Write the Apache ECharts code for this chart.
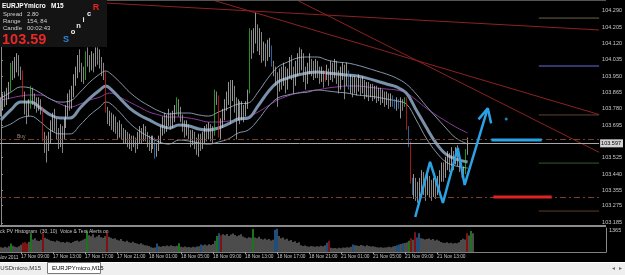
<!DOCTYPE html>
<html><head><meta charset="utf-8">
<script src="https://cdn.jsdelivr.net/npm/echarts/dist/echarts.min.js"></script>
<style>html,body{margin:0;padding:0;background:#000;overflow:hidden}#c{width:625px;height:275px}</style>
</head><body><div id="c"></div>
<script>
// ---------- DATA ----------
const firstOpen = 103.78;
const closes = [
103.80,103.83,103.82,103.86,103.88,103.99,103.96,104.00,104.03,103.98,
103.97,103.86,103.80,103.76,103.80,103.88,103.84,103.82,103.79,103.81,
103.78,103.62,103.60,103.58,103.63,103.68,103.72,103.70,103.66,103.62,
103.66,103.64,103.70,103.76,103.82,103.80,103.86,103.92,103.96,104.02,
104.00,103.96,103.94,104.06,104.04,104.00,104.04,104.02,104.06,104.05,
104.02,103.99,103.97,103.77,103.72,103.74,103.70,103.72,103.68,103.66,
103.69,103.65,103.63,103.64,103.61,103.62,103.59,103.61,103.58,103.62,
103.66,103.63,103.67,103.64,103.62,103.60,103.61,103.62,103.54,103.58,
103.62,103.66,103.70,103.68,103.72,103.74,103.70,103.73,103.76,103.82,
103.78,103.74,103.70,103.67,103.69,103.65,103.62,103.64,103.61,103.59,
103.62,103.60,103.63,103.66,103.64,103.68,103.66,103.65,103.86,103.83,
103.66,103.70,103.74,103.80,103.84,103.88,103.85,103.88,103.82,103.76,
103.80,103.74,103.78,103.76,103.80,103.86,104.18,104.10,104.14,104.20,
104.12,104.16,104.08,104.10,104.06,104.08,104.11,104.02,103.98,103.95,
103.90,103.96,103.93,103.98,103.92,103.96,104.02,103.98,103.94,103.99,
104.04,104.00,104.05,103.98,103.94,103.99,104.02,104.00,103.97,104.01,
103.98,103.95,103.97,103.93,103.96,103.98,103.95,104.00,103.97,104.01,
103.96,103.92,103.97,104.00,103.95,103.98,103.90,103.93,103.89,103.92,
103.90,103.93,103.89,103.91,103.88,103.90,103.87,103.89,103.86,103.88,
103.85,103.87,103.84,103.86,103.83,103.85,103.82,103.84,103.81,103.80,
103.82,103.80,103.81,103.80,103.83,103.68,103.60,103.40,103.37,103.40,
103.36,103.34,103.38,103.42,103.39,103.36,103.40,103.37,103.34,103.38,
103.35,103.39,103.43,103.46,103.44,103.49,103.52,103.50,103.54,103.51,
103.55,103.52,103.49,103.43,103.45,103.56,103.59];
const highs = [
103.84,103.86,103.87,103.89,103.92,104.02,104.03,104.05,104.07,104.06,
104.00,103.98,103.87,103.82,103.83,103.90,103.89,103.86,103.84,103.84,
103.83,103.79,103.66,103.64,103.66,103.72,103.76,103.78,103.73,103.68,
103.70,103.69,103.73,103.80,103.86,103.88,103.90,103.96,104.00,104.06,
104.09,104.02,104.00,104.08,104.10,104.06,104.08,104.07,104.10,104.10,
104.09,104.05,104.02,103.98,103.79,103.77,103.76,103.75,103.74,103.71,
103.72,103.70,103.68,103.67,103.66,103.65,103.64,103.64,103.63,103.66,
103.69,103.68,103.70,103.69,103.66,103.64,103.64,103.64,103.63,103.60,
103.64,103.69,103.74,103.76,103.75,103.78,103.76,103.77,103.80,103.84,
103.83,103.79,103.75,103.72,103.72,103.70,103.67,103.67,103.66,103.63,
103.65,103.65,103.66,103.69,103.70,103.71,103.70,103.69,103.88,103.87,
103.85,103.73,103.78,103.83,103.87,103.92,103.93,103.93,103.90,103.84,
103.83,103.82,103.82,103.80,103.82,103.88,104.20,104.19,104.20,104.28,
104.22,104.20,104.18,104.13,104.12,104.14,104.15,104.11,104.03,104.00,
103.97,103.99,104.00,104.02,104.00,103.99,104.05,104.06,104.00,104.03,
104.07,104.10,104.09,104.07,104.00,104.02,104.07,104.04,104.03,104.04,
104.03,104.00,104.00,103.98,103.98,104.01,103.99,104.03,104.02,104.04,
104.03,103.98,104.00,104.02,104.01,104.02,103.98,103.96,103.95,103.95,
103.94,103.96,103.94,103.95,103.93,103.92,103.92,103.91,103.91,103.90,
103.90,103.89,103.89,103.88,103.87,103.87,103.86,103.86,103.85,103.83,
103.84,103.83,103.84,103.83,103.84,103.84,103.69,103.61,103.42,103.44,
103.42,103.40,103.42,103.46,103.45,103.42,103.46,103.43,103.41,103.42,
103.40,103.43,103.46,103.50,103.50,103.53,103.56,103.55,103.58,103.56,
103.58,103.59,103.54,103.49,103.48,103.57,103.63];
const lows = [
103.74,103.77,103.79,103.80,103.83,103.87,103.93,103.94,103.97,103.95,
103.93,103.84,103.75,103.70,103.74,103.78,103.80,103.78,103.76,103.77,
103.75,103.61,103.55,103.50,103.56,103.60,103.66,103.66,103.62,103.57,
103.58,103.55,103.62,103.68,103.74,103.77,103.78,103.84,103.90,103.94,
103.97,103.92,103.91,103.93,104.00,103.97,103.98,103.97,104.00,104.01,
103.99,103.95,103.93,103.76,103.70,103.69,103.67,103.66,103.65,103.62,
103.63,103.62,103.60,103.60,103.58,103.57,103.56,103.58,103.55,103.57,
103.60,103.60,103.61,103.61,103.58,103.56,103.55,103.57,103.52,103.53,
103.56,103.60,103.64,103.65,103.66,103.69,103.67,103.68,103.71,103.75,
103.74,103.71,103.66,103.63,103.64,103.62,103.58,103.59,103.57,103.54,
103.53,103.56,103.57,103.60,103.61,103.62,103.61,103.60,103.64,103.80,
103.63,103.62,103.68,103.72,103.77,103.80,103.70,103.82,103.76,103.62,
103.72,103.70,103.72,103.71,103.74,103.78,103.86,104.04,104.07,104.12,
104.08,104.06,104.02,104.03,104.00,104.03,104.05,104.00,103.95,103.90,
103.79,103.87,103.88,103.90,103.86,103.88,103.94,103.93,103.86,103.90,
103.95,103.96,103.98,103.92,103.88,103.91,103.96,103.95,103.93,103.94,
103.94,103.91,103.92,103.89,103.92,103.93,103.90,103.93,103.92,103.94,
103.91,103.86,103.88,103.93,103.83,103.90,103.88,103.86,103.84,103.86,
103.85,103.87,103.85,103.86,103.83,103.84,103.82,103.84,103.82,103.83,
103.81,103.82,103.80,103.81,103.79,103.80,103.78,103.79,103.79,103.78,
103.77,103.78,103.73,103.77,103.79,103.67,103.58,103.39,103.33,103.31,
103.30,103.29,103.31,103.34,103.33,103.30,103.33,103.32,103.30,103.32,
103.31,103.33,103.36,103.40,103.40,103.42,103.46,103.45,103.48,103.46,
103.49,103.48,103.45,103.42,103.40,103.44,103.54];
const candleGreen = [5,15,43,89,108,126,204,235];
const candleRed = [11,21,53,110,164,205,207,233];
const candleBlue = [78,137,176,198,199,201,206,208];

const volumes = [
300,260,330,280,350,520,390,330,300,360,
450,580,600,520,640,1170,780,850,720,680,760,1170,
880,820,760,700,680,640,720,660,600,620,580,640,600,560,620,680,720,650,700,760,
820,1300,1040,980,1100,900,960,1050,920,880,980,1230,
940,880,820,860,760,720,800,680,640,700,600,580,640,560,520,480,540,460,420,400,380,
300,260,280,520,360,330,380,350,400,360,420,380,350,390,540,
330,300,340,290,310,280,320,300,340,360,460,420,460,400,480,440,500,
700,1000,1170,1040,
1100,1040,1120,1000,1080,1150,1060,980,1040,1100,960,900,860,920,880,1430,
900,860,940,820,780,840,760,800,720,760,1380,1450,1000,
860,900,780,820,700,740,620,660,560,600,
420,380,400,360,330,380,350,320,360,340,390,360,420,580,700,
260,230,250,220,260,240,280,260,300,280,320,460,
420,400,380,440,400,360,420,380,340,360,320,300,280,300,260,280,300,320,300,340,
380,420,460,500,540,560,600,700,850,760,1230,900,1170,
860,820,780,800,840,760,800,720,760,700,
620,580,560,600,540,580,520,560,540,600,
740,820,780,1170,1020,1300,1170];
const volGreen = [5,15,43,89,108,126,204,235];
const volRed = [11,12,13,21,53,110,164,205,207,233];
const volBlue = [78,100,109,137,138,163,176,198,199,201,208,209];

const emaClose = [[0,103.722],[5,103.774],[10,103.815],[15,103.815],[20,103.784],[25,103.748],[30,103.732],[35,103.732],[40,103.784],[45,103.836],[50,103.878],[53,103.899],[55,103.888],[60,103.836],[65,103.784],[70,103.748],[75,103.722],[80,103.695],[85,103.680],[90,103.695],[95,103.690],[100,103.675],[105,103.669],[110,103.680],[115,103.701],[120,103.727],[125,103.732],[130,103.795],[135,103.867],[140,103.920],[145,103.940],[150,103.956],[155,103.967],[160,103.972],[165,103.967],[170,103.961],[175,103.956],[180,103.951],[185,103.940],[190,103.925],[195,103.909],[200,103.894],[205,103.862],[210,103.774],[215,103.685],[220,103.602],[225,103.544],[230,103.518],[236,103.503]];
const emaHigh = [[0,103.836],[5,103.867],[10,103.894],[15,103.888],[20,103.862],[25,103.831],[30,103.815],[35,103.821],[40,103.867],[45,103.920],[50,103.961],[53,103.977],[55,103.967],[60,103.920],[65,103.867],[70,103.826],[75,103.795],[80,103.768],[85,103.753],[90,103.758],[95,103.758],[100,103.748],[105,103.742],[110,103.763],[115,103.784],[120,103.805],[125,103.810],[130,103.867],[135,103.940],[140,103.998],[145,104.024],[150,104.045],[155,104.050],[160,104.050],[165,104.034],[170,104.024],[175,104.019],[180,104.008],[185,103.993],[190,103.977],[195,103.961],[200,103.940],[205,103.909],[210,103.857],[215,103.795],[220,103.737],[225,103.680],[230,103.628],[236,103.596]];
const emaLow = [[0,103.680],[5,103.701],[10,103.732],[15,103.742],[20,103.711],[25,103.669],[30,103.649],[35,103.649],[40,103.695],[45,103.748],[50,103.789],[53,103.815],[55,103.810],[60,103.763],[65,103.706],[70,103.664],[75,103.633],[80,103.607],[85,103.596],[90,103.617],[95,103.612],[100,103.602],[105,103.596],[110,103.607],[115,103.623],[120,103.654],[125,103.669],[130,103.722],[135,103.789],[140,103.836],[145,103.852],[150,103.862],[155,103.867],[160,103.878],[165,103.873],[170,103.867],[175,103.862],[180,103.852],[185,103.847],[190,103.841],[195,103.831],[200,103.821],[205,103.805],[210,103.722],[215,103.628],[220,103.555],[225,103.503],[230,103.482],[236,103.471]];
const emaSlow = [[0,103.826],[5,103.836],[10,103.847],[15,103.852],[20,103.852],[25,103.831],[30,103.805],[35,103.789],[40,103.805],[45,103.826],[50,103.841],[53,103.857],[55,103.862],[60,103.841],[65,103.815],[70,103.789],[75,103.763],[80,103.748],[85,103.737],[90,103.737],[95,103.732],[100,103.722],[105,103.711],[110,103.711],[115,103.716],[120,103.722],[125,103.737],[130,103.763],[135,103.795],[140,103.826],[145,103.847],[150,103.862],[155,103.873],[160,103.878],[165,103.888],[170,103.894],[175,103.899],[180,103.899],[185,103.894],[190,103.888],[195,103.883],[200,103.878],[205,103.862],[210,103.826],[215,103.784],[220,103.748],[225,103.716],[230,103.685],[236,103.654]];

const trendLines = [[[20,104.350],[302.5,104.191]],[[107,104.347],[302.5,103.750]],[[149,104.350],[302.5,103.553]]];
const levelPrices = [104.253, 104.003, 103.748, 103.497, 103.247];
const levelStart = 272;
const zigzag = [[209.5,103.216],[217,103.503],[223.5,103.289],[231,103.576],[234.5,103.383],[246.2,103.783]];
const arrowHead = [[241.5,103.725],[246.2,103.783],[247.9,103.704]];
const blueDot = [[255.5,103.727]];
const targetLine = [[248,103.617],[273.5,103.617]];
const stopLine = [[249,103.320],[278.5,103.320]];
const bidPrice = 103.597, buyPrice = 103.617, slPrice = 103.320;
const bidLabel = '103.597';

const priceTicks = [104.290,104.205,104.120,104.035,103.950,103.865,103.780,103.695,103.525,103.440,103.355,103.275,103.185];
const volTicks = [1365];
const tickLabels = ['17 Nov 09:00','17 Nov 13:00','17 Nov 17:00','17 Nov 21:00','18 Nov 01:00','18 Nov 05:00','18 Nov 09:00','18 Nov 13:00','18 Nov 17:00','18 Nov 21:00','21 Nov 01:00','21 Nov 05:00','21 Nov 09:00','21 Nov 13:00','21 Nov 17:00'];
const firstTickIndex = 10, tickStep = 16;
const totalSlots = 303;

// ---------- BUILD ----------
const cats = Array.from({length: totalSlots}, (_, i) => String(i));
const C_G = '#33d433', C_R = '#e62222', C_B = '#3a90dc';
const candleData = closes.map((c, i) => {
  const o = i === 0 ? firstOpen : closes[i - 1];
  let col = null;
  if (candleGreen.includes(i)) col = C_G;
  else if (candleRed.includes(i)) col = C_R;
  else if (candleBlue.includes(i)) col = C_B;
  const item = {value: [o, c, lows[i], highs[i]]};
  if (col) item.itemStyle = {color: col, color0: col, borderColor: col, borderColor0: col};
  return item;
});
const volData = volumes.map((v, i) => {
  let col = '#8a8a8a';
  if (volGreen.includes(i)) col = C_G;
  else if (volRed.includes(i)) col = C_R;
  else if (volBlue.includes(i)) col = C_B;
  return {value: v, itemStyle: {color: col}};
});
const isTick = i => i >= firstTickIndex && (i - firstTickIndex) % tickStep === 0 && (i - firstTickIndex) / tickStep < tickLabels.length;

const FONT = 'Liberation Sans, Arial, sans-serif';
function lineSeries(data, color, width, extra) {
  return Object.assign({type: 'line', xAxisIndex: 1, yAxisIndex: 0, data, showSymbol: false, symbol: 'none',
    lineStyle: {color, width}, silent: true, animation: false, clip: true, z: 3}, extra || {});
}
const levelColors = ['#6e6448', '#34346e', '#5e4232', '#2f5e30', '#5e3a2c'];
const levelWidths = [1, 2, 1, 1, 1];

const series = [
  {type: 'candlestick', xAxisIndex: 0, yAxisIndex: 0, data: candleData, barWidth: 1.1,
   itemStyle: {color: '#f6f6f6', color0: '#c4c4c4', borderColor: '#d6d6d6', borderColor0: '#bdbdbd', borderWidth: 0.7},
   z: 4, silent: true, animation: false,
   markLine: {symbol: 'none', silent: true, animation: false, label: {show: false},
     data: [
       {yAxis: bidPrice, lineStyle: {color: '#a8a8a8', width: 1, type: 'solid'},
        label: {show: true, position: 'end', formatter: bidLabel, backgroundColor: '#d4d4d4', color: '#000',
                fontSize: 5.5, fontFamily: FONT, padding: [1, 2, 1, 1], distance: 1}},
       {yAxis: buyPrice, lineStyle: {color: '#7a3e2e', width: 1, type: [6, 3, 2, 3]}},
       {yAxis: slPrice, lineStyle: {color: '#7a3e2e', width: 1, type: [6, 3, 2, 3]}}
     ]}},
  lineSeries(emaSlow, '#8a3c9c', 1, {smooth: 0.4}),
  lineSeries(emaHigh, '#8596a8', 1, {smooth: 0.4}),
  lineSeries(emaLow, '#8596a8', 1, {smooth: 0.4}),
  lineSeries(emaClose, '#7a91aa', 3, {smooth: 0.4}),
];
trendLines.forEach(t => series.push(lineSeries(t, '#8e2222', 1)));
levelPrices.forEach((p, k) => series.push(lineSeries([[levelStart, p], [302.5, p]], levelColors[k], levelWidths[k])));
series.push(lineSeries(zigzag, '#2aa2e4', 2.5, {z: 6}));
series.push(lineSeries(arrowHead, '#2aa2e4', 2.5, {z: 6}));
series.push(lineSeries(targetLine, '#2aa2e4', 3, {z: 6}));
series.push(lineSeries(stopLine, '#e02424', 3, {z: 6}));
series.push({type: 'scatter', xAxisIndex: 1, yAxisIndex: 0, data: blueDot, symbolSize: 3,
  itemStyle: {color: '#2aa2e4'}, silent: true, animation: false, z: 6});
series.push({type: 'bar', xAxisIndex: 2, yAxisIndex: 1, data: volData, barWidth: 1.1, silent: true, animation: false});

const txt = (text, x, y, size, color, opts) => Object.assign({
  type: 'text', z: 100, silent: true,
  style: Object.assign({text, x, y, fill: color, font: size + 'px ' + FONT,
    textAlign: 'left', textVerticalAlign: 'middle', align: 'left', verticalAlign: 'middle'}, opts || {})
});
const graphics = [
  {type: 'rect', z: 90, silent: true, shape: {x: 0, y: 0, width: 606, height: 1}, style: {fill: '#555'}},
  {type: 'rect', z: 99, silent: true, shape: {x: 0, y: 0, width: 107, height: 47}, style: {fill: '#141414'}},
  txt('EURJPYmicro', 2, 6, 6.5, '#ffffff', {font: 'bold 6.5px ' + FONT}),
  txt('M15', 51, 6, 6.5, '#ffffff', {font: 'bold 6.5px ' + FONT}),
  txt('Spread', 3, 14.5, 6, '#d0d0d0'), txt('2.80', 27, 14.5, 6, '#d0d0d0'),
  txt('Range', 3, 21.5, 6, '#d0d0d0'), txt('154, 84', 27, 21.5, 6, '#d0d0d0'),
  txt('Candle', 3, 28.5, 6, '#d0d0d0'), txt('00:02:43', 27, 28.5, 6, '#d0d0d0'),
  txt('103.59', 2, 40, 14.5, '#e82828', {font: 'bold 14.5px ' + FONT}),
  txt('S', 66, 39.5, 9, '#2f86da', {font: 'bold 9px ' + FONT, textAlign: 'center', align: 'center'}),
  txt('o', 73, 31.5, 7.5, '#f0f0f0', {font: 'bold 7.5px ' + FONT, textAlign: 'center', align: 'center'}),
  txt('n', 78.5, 25.5, 7.5, '#f0f0f0', {font: 'bold 7.5px ' + FONT, textAlign: 'center', align: 'center'}),
  txt('i', 83.5, 19.5, 7.5, '#f0f0f0', {font: 'bold 7.5px ' + FONT, textAlign: 'center', align: 'center'}),
  txt('c', 89, 14, 7.5, '#f0f0f0', {font: 'bold 7.5px ' + FONT, textAlign: 'center', align: 'center'}),
  txt('R', 96, 8, 9, '#e62222', {font: 'bold 9px ' + FONT, textAlign: 'center', align: 'center'}),
  txt('Buy', 17, 137, 5, '#9a8a80'),
  {type: 'rect', z: 95, silent: true, shape: {x: 0, y: 225, width: 606, height: 2}, style: {fill: '#8c8c8c'}},
  txt('ck PV Histogram  (30, 10)', 0, 231.5, 5, '#c4c4c4'),
  txt('Voice & Text Alerts on', 60, 231.5, 5, '#c4c4c4'),
  txt('17 Nov 2011', 18.5, 257.5, 4.8, '#c8c8c8', {textAlign: 'right', align: 'right'}),
  {type: 'rect', z: 95, silent: true, shape: {x: 0, y: 262, width: 625, height: 13}, style: {fill: '#efefef'}},
  {type: 'rect', z: 96, silent: true, shape: {x: 0, y: 262, width: 625, height: 1}, style: {fill: '#ffffff'}},
  txt('EURUSDmicro,M15', 41, 268.5, 6, '#303030', {textAlign: 'right', align: 'right'}),
  {type: 'rect', z: 97, silent: true, shape: {x: 47.5, y: 262.5, width: 53, height: 11}, style: {fill: '#ffffff', stroke: '#7a7a7a', lineWidth: 1}},
  txt('EURJPYmicro,M15', 52, 268, 6, '#000000'),
  txt('\u25C2', 612, 268, 6, '#707070'),
  txt('\u25B8', 619, 268, 6, '#707070')
];

const chart = echarts.init(document.getElementById('c'), null, {renderer: 'canvas'});
chart.setOption({
  backgroundColor: '#000000',
  animation: false,
  grid: [{left: 0, top: 1, width: 606, height: 225}, {left: 0, top: 228, width: 606, height: 24}],
  xAxis: [
    {type: 'category', gridIndex: 0, data: cats, boundaryGap: true, show: false},
    {type: 'value', gridIndex: 0, min: -0.5, max: totalSlots - 0.5, show: false},
    {type: 'category', gridIndex: 1, data: cats, boundaryGap: true,
     axisLine: {lineStyle: {color: '#808080', width: 1}},
     axisTick: {show: true, interval: isTick, alignWithLabel: true, length: 2, lineStyle: {color: '#a0a0a0'}},
     axisLabel: {interval: isTick, formatter: (v, i) => tickLabels[(i - firstTickIndex) / tickStep] || '',
       align: 'left', fontSize: 4.8, fontFamily: FONT, color: '#c8c8c8', margin: 2, hideOverlap: false,
       showMinLabel: true, showMaxLabel: false},
     splitLine: {show: false}}
  ],
  yAxis: [
    {type: 'value', gridIndex: 0, position: 'right', min: 103.169, max: 104.342,
     axisLine: {show: true, lineStyle: {color: '#8a8a8a'}},
     axisTick: {show: true, customValues: priceTicks, length: 2, lineStyle: {color: '#8a8a8a'}},
     axisLabel: {customValues: priceTicks, formatter: v => v.toFixed(3), fontSize: 5.5, fontFamily: FONT, color: '#c8c8c8', margin: 3},
     splitLine: {show: false}},
    {type: 'value', gridIndex: 1, position: 'right', min: 0, max: 1490,
     axisLine: {show: true, lineStyle: {color: '#8a8a8a'}},
     axisTick: {show: false},
     axisLabel: {customValues: volTicks, formatter: v => String(v), fontSize: 5.5, fontFamily: FONT, color: '#c8c8c8', margin: 3},
     splitLine: {show: false}}
  ],
  series,
  graphic: graphics
});
</script>
</body></html>
